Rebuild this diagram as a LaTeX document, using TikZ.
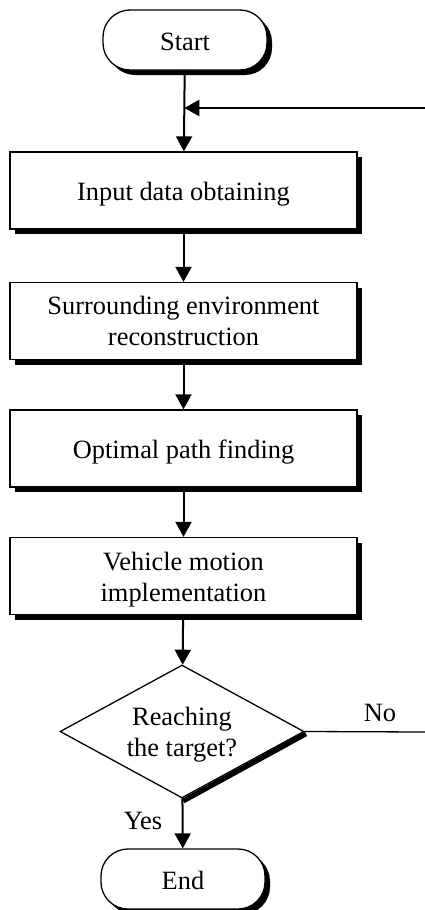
\documentclass[tikz,border=0pt]{standalone}
\usepackage{fontspec}
\setmainfont{Liberation Serif}
\usetikzlibrary{shapes.geometric,arrows.meta,shadows,backgrounds}
\begin{document}
\begin{tikzpicture}[x=1pt,y=-1pt,
  every node/.style={font=\fontsize{26.4}{31}\selectfont},
  boxshadow/.style={drop shadow={shadow xshift=5pt, shadow yshift=-5pt, opacity=1, fill=black}},
  proc/.style={draw, line width=1.3pt, fill=white, minimum width=347pt, minimum height=77pt, align=center, inner sep=0pt, boxshadow},
  term/.style={draw, line width=1.3pt, fill=white, rounded corners=27pt, minimum width=164pt, minimum height=60pt, inner sep=0pt, text height=22pt, boxshadow},
  decision/.style={draw, diamond, line width=1.3pt, fill=white, minimum width=244pt, minimum height=133pt, inner sep=0pt},
  flow/.style={line width=2pt, -{Triangle[length=15pt,width=16pt]}},
  plainline/.style={line width=1.3pt}
]
\useasboundingbox (0,0) rectangle (425,910);
\node[term] (start) at (185,40) {Start};
\node[proc, text height=26pt] (in) at (183.5,190.5) {Input data obtaining};
\node[proc] (env) at (183.5,321) {Surrounding environment\\reconstruction};
\node[proc, text height=26pt] (path) at (183.5,448.5) {Optimal path finding};
\node[proc] (veh) at (183.5,576) {\rule{0pt}{25pt}Vehicle motion\\implementation};
\node[decision] (d) at (182,731.5) {};
\node[align=center] (dt) at (182,734.5) {Reaching\\the target?};
\begin{scope}[on background layer]
  \fill (d.east) -- (d.south) -- ([shift={(2.5,4.5)}]d.south) -- ([shift={(2.5,4.5)}]d.east) -- cycle;
\end{scope}
\node[term] (end) at (183,879) {End};
\node (no) at (380,713) {No};
\node (yes) at (143,821) {Yes};
\coordinate (j) at (184.3,108);
\coordinate (r1) at (425,108);
\coordinate (r2) at (425,732);
\draw[flow] (start) -- (in);
\draw[flow] (r1) -- (j);
\draw[flow] (in) -- (env);
\draw[flow] (env) -- (path);
\draw[flow] (path) -- (veh);
\draw[flow] (veh) -- (d);
\draw[flow] (d) -- (end);
\draw[plainline] (d.east) -- (r2);
\end{tikzpicture}
\end{document}
